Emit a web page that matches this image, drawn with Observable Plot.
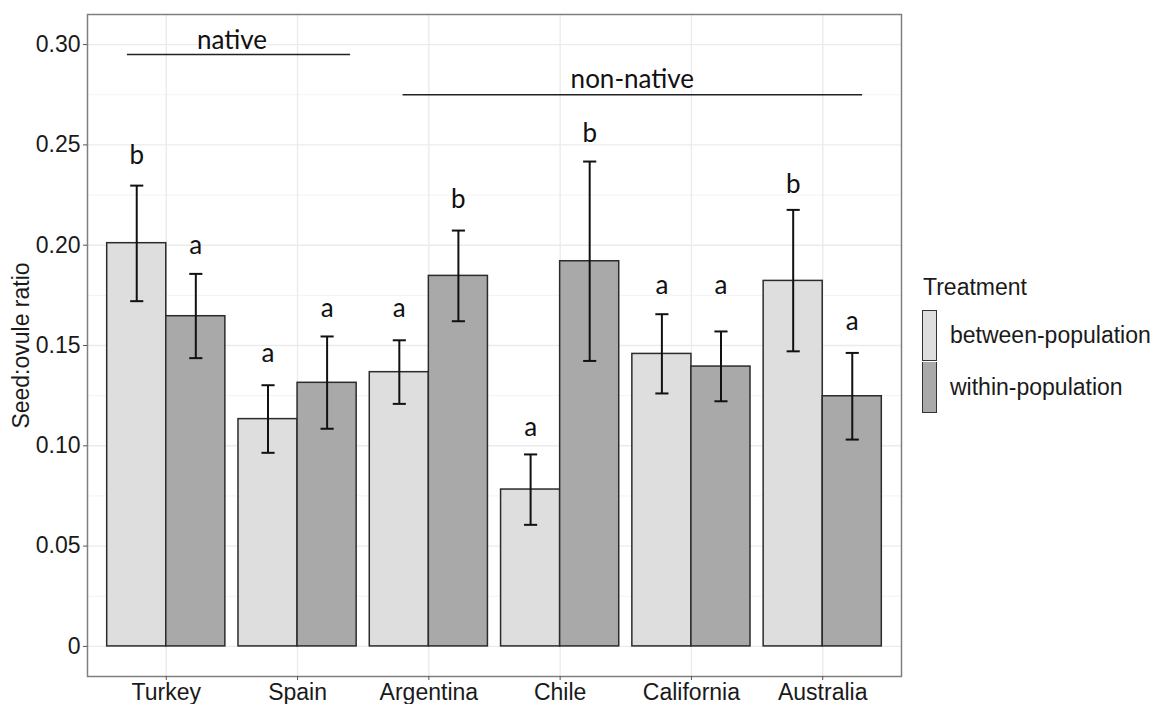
<!DOCTYPE html>
<html>
<head>
<meta charset="utf-8">
<script src="https://cdn.jsdelivr.net/npm/d3@7"></script>
<script src="https://cdn.jsdelivr.net/npm/@observablehq/plot@0.6"></script>
<style>
  html, body { margin: 0; padding: 0; background: #ffffff; }
  #wrap { position: relative; width: 1160px; height: 704px; overflow: hidden; }
  #legend { position: absolute; left: 922px; top: 272px; font-family: "Liberation Sans", Arial, sans-serif; font-size: 23px; color: #1a1a1a; }
  #legend .title { line-height: 30px; height: 30px; margin-bottom: 7px; margin-left: 1px; }
  #legend .item { display: flex; align-items: center; height: 52px; }
  #legend .key { width: 15px; height: 51px; border: 1px solid #333; box-sizing: border-box; margin-right: 13px; }
  #legend .item + .item .key { border-top: none; }
</style>
</head>
<body>
<div id="wrap"></div>
<script>
// ---- data ----
const countries = ["Turkey", "Spain", "Argentina", "Chile", "California", "Australia"];
const treatments = ["between-population", "within-population"];

const betweenMean = [0.2010, 0.1133, 0.1367, 0.0782, 0.1458, 0.1822];
const betweenLow  = [0.1721, 0.0965, 0.1209, 0.0606, 0.1261, 0.1471];
const betweenHigh = [0.2297, 0.1302, 0.1526, 0.0957, 0.1656, 0.2176];
const betweenLetters = ["b", "a", "a", "a", "a", "b"];
const betweenLetterY = [0.2405, 0.1417, 0.1641, 0.1048, 0.1757, 0.2259];

const withinMean = [0.1646, 0.1314, 0.1847, 0.1920, 0.1395, 0.1247];
const withinLow  = [0.1437, 0.1085, 0.1621, 0.1423, 0.1222, 0.1031];
const withinHigh = [0.1857, 0.1545, 0.2073, 0.2417, 0.1570, 0.1463];
const withinLetters = ["a", "a", "b", "b", "a", "a"];
const withinLetterY = [0.1955, 0.1641, 0.2186, 0.2516, 0.1757, 0.1578];

const groupLabels = ["native", "non-native"];
const groupTextX = [1.5, 4.55];
const groupTextY = [0.2978, 0.2783];
const groupLineX1 = [0.7, 2.8];
const groupLineX2 = [2.4, 6.3];
const groupLineY = [0.295, 0.275];

const yTicks = [0, 0.05, 0.10, 0.15, 0.20, 0.25, 0.30];
const yMinorTicks = [0.025, 0.075, 0.125, 0.175, 0.225, 0.275];
const yLabel = "Seed:ovule ratio";
const legendTitle = "Treatment";

// ---- build table ----
const rows = [];
countries.forEach((c, i) => {
  rows.push({country: c, pos: i + 1, treatment: treatments[0], side: -1,
    mean: betweenMean[i], low: betweenLow[i], high: betweenHigh[i],
    letter: betweenLetters[i], letterY: betweenLetterY[i]});
  rows.push({country: c, pos: i + 1, treatment: treatments[1], side: 1,
    mean: withinMean[i], low: withinLow[i], high: withinHigh[i],
    letter: withinLetters[i], letterY: withinLetterY[i]});
});
const groups = groupLabels.map((g, i) => ({label: g, tx: groupTextX[i], ty: groupTextY[i],
  x1: groupLineX1[i], x2: groupLineX2[i], y: groupLineY[i]}));

const dodge = 0.45;      // half of ggplot bar group width 0.9
const cap = 0.05;        // half of errorbar width 0.1
const center = d => d.pos + d.side * dodge / 2;
const fills = ["#dedede", "#a9a9a9"];
const letterFont = "Lato, Carlito, Calibri, sans-serif";

const chart = Plot.plot({
  width: 1160,
  height: 704,
  marginLeft: 87,
  marginRight: 259,
  marginTop: 14,
  marginBottom: 28,
  style: {fontFamily: "'Liberation Sans', Arial, sans-serif", fontSize: "23px", color: "#1a1a1a", background: "#ffffff"},
  x: {type: "linear", domain: [0.4, 6.6]},
  y: {domain: [-0.015, 0.315]},
  color: {domain: treatments, range: fills},
  marks: [
    Plot.gridY(yMinorTicks, {stroke: "#f3f3f3", strokeOpacity: 1, strokeWidth: 1}),
    Plot.gridY(yTicks, {stroke: "#ebebeb", strokeOpacity: 1, strokeWidth: 1.4}),
    Plot.gridX(countries.map((c, i) => i + 1), {stroke: "#ebebeb", strokeOpacity: 1, strokeWidth: 1.4}),
    Plot.rect(rows, {
      x1: d => d.side < 0 ? d.pos - dodge : d.pos,
      x2: d => d.side < 0 ? d.pos : d.pos + dodge,
      y1: 0, y2: "mean", fill: "treatment", stroke: "#2b2b2b", strokeWidth: 1.5
    }),
    Plot.link(rows, {x1: center, x2: center, y1: "low", y2: "high", stroke: "#111", strokeWidth: 2}),
    Plot.link(rows, {x1: d => center(d) - cap, x2: d => center(d) + cap, y1: "high", y2: "high", stroke: "#111", strokeWidth: 2}),
    Plot.link(rows, {x1: d => center(d) - cap, x2: d => center(d) + cap, y1: "low", y2: "low", stroke: "#111", strokeWidth: 2}),
    Plot.text(rows, {x: center, y: "letterY", text: "letter", lineAnchor: "bottom",
      fontFamily: letterFont, fontSize: 26, fill: "#111"}),
    Plot.link(groups, {x1: "x1", x2: "x2", y1: "y", y2: "y", stroke: "#222", strokeWidth: 1.5}),
    Plot.text(groups, {x: "tx", y: "ty", text: "label", lineAnchor: "bottom",
      fontFamily: letterFont, fontSize: 26, fill: "#111"}),
    Plot.frame({stroke: "#7f7f7f", strokeWidth: 1.5}),
    Plot.axisY({ticks: yTicks, tickFormat: d => d === 0 ? "0" : d.toFixed(2), tickSize: 4, tickPadding: 3,
      stroke: "#555", fill: "#1a1a1a",
      label: yLabel, labelAnchor: "center", labelArrow: "none", labelOffset: 75}),
    Plot.axisX({ticks: countries.map((c, i) => i + 1), tickFormat: d => countries[d - 1], tickSize: 4, tickPadding: 3,
      stroke: "#555", fill: "#1a1a1a", label: null})
  ]
});

const wrap = document.getElementById("wrap");
wrap.appendChild(chart);

// ---- legend (HTML, to the right of the plot) ----
const legend = document.createElement("div");
legend.id = "legend";
const t = document.createElement("div");
t.className = "title";
t.textContent = legendTitle;
legend.appendChild(t);
treatments.forEach((tr, i) => {
  const item = document.createElement("div");
  item.className = "item";
  const key = document.createElement("div");
  key.className = "key";
  key.style.background = fills[i];
  const lab = document.createElement("span");
  lab.textContent = tr;
  item.appendChild(key);
  item.appendChild(lab);
  legend.appendChild(item);
});
wrap.appendChild(legend);
</script>
</body>
</html>
